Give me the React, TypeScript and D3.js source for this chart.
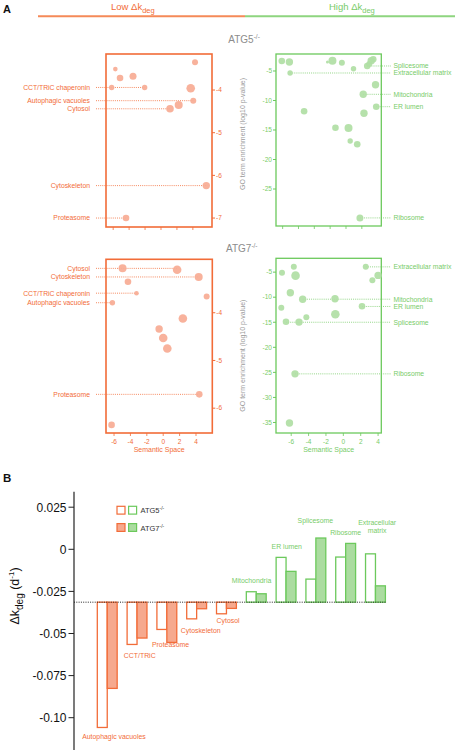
import React from 'react';
import * as d3 from 'd3';

// ---------- DATA ----------
// Panel A scatter points: [semantic x, log10 p-value, term size]
const atg5LowPoints: [number, number, number][] = [
  [4.27, -3.35, 3], [-5.73, -3.51, 2.3], [-5.14, -3.72, 3.3], [-3.51, -3.68, 3.5],
  [-6.19, -3.94, 2.7], [-2.05, -3.94, 2.7], [3.73, -3.96, 4.3], [4.05, -4.25, 3],
  [2.22, -4.35, 4], [1.13, -4.44, 3.8], [5.68, -6.24, 3.7], [-4.39, -7.0, 3.3],
];
const atg5HighPoints: [number, number, number][] = [
  [-6.11, -3.31, 3.3], [-5.15, -3.47, 3.7], [-0.34, -3.47, 1.5], [0.29, -3.25, 4],
  [1.48, -3.59, 3], [2.95, -4.61, 2.7], [4.68, -4.15, 3.3], [4.94, -3.81, 3],
  [5.19, -3.25, 3.7], [5.44, -3.02, 3.3], [-5.06, -5.34, 2.7], [5.73, -7.32, 3.7],
  [4.18, -8.95, 3.7], [5.82, -11.05, 3.3], [-3.29, -11.83, 3.3], [4.27, -12.17, 3.7],
  [0.67, -14.61, 3.3], [2.32, -14.66, 4], [2.53, -16.86, 2.7], [3.42, -17.42, 3.3],
  [3.76, -29.9, 3.5],
];
const atg7LowPoints: [number, number, number][] = [
  [-4.96, -3.07, 4], [1.7, -3.1, 4.3], [4.33, -3.25, 4], [-4.3, -3.35, 3.3],
  [-3.26, -3.59, 2.3], [5.3, -3.66, 3], [-6.2, -3.79, 2.7], [2.4, -4.12, 4.3],
  [-0.5, -4.34, 3.7], [0, -4.53, 4.3], [0.5, -4.75, 4.3], [4.4, -5.71, 3.3],
  [-6.3, -6.35, 3.3],
];
const atg7HighPoints: [number, number, number][] = [
  [-7.06, -5.14, 3], [-5.7, -3.95, 3], [-5.5, -5.7, 4.3], [2.58, -3.95, 3],
  [3.34, -6.6, 3], [4.0, -5.65, 3.7], [-6.1, -9.1, 3.7], [-4.68, -10.4, 3.7],
  [-0.96, -10.3, 3.7], [-7.14, -12.1, 3], [2.15, -11.8, 3.3], [-0.92, -13.4, 4.3],
  [-4.26, -14.0, 3], [-6.6, -14.9, 3.3], [-5.1, -14.97, 3.7], [-5.56, -25.3, 3.7],
  [-6.2, -35.1, 3.7],
];

// Panel A annotated GO terms: name, p-value level, farthest semantic x
const atg5LowLabels = [
  { name: 'CCT/TRiC chaperonin', y: -3.94, x: -2.05 },
  { name: 'Autophagic vacuoles', y: -4.25, x: 4.05 },
  { name: 'Cytosol', y: -4.44, x: 1.13 },
  { name: 'Cytoskeleton', y: -6.24, x: 5.68 },
  { name: 'Proteasome', y: -7.0, x: -4.39 },
];
const atg5HighLabels = [
  { name: 'Splicesome', y: -4.15, x: 4.68 },
  { name: 'Extracellular matrix', y: -5.34, x: -5.06 },
  { name: 'Mitochondria', y: -8.95, x: 4.18 },
  { name: 'ER lumen', y: -11.05, x: 5.82 },
  { name: 'Ribosome', y: -29.9, x: 3.76 },
];
const atg7LowLabels = [
  { name: 'Cytosol', y: -3.07, x: 1.7 },
  { name: 'Cytoskeleton', y: -3.25, x: 4.33 },
  { name: 'CCT/TRiC chaperonin', y: -3.59, x: -3.26 },
  { name: 'Autophagic vacuoles', y: -3.79, x: -6.2 },
  { name: 'Proteasome', y: -5.71, x: 4.4 },
];
const atg7HighLabels = [
  { name: 'Extracellular matrix', y: -3.95, x: 2.58 },
  { name: 'Mitochondria', y: -10.4, x: -4.68 },
  { name: 'ER lumen', y: -11.85, x: 2.15 },
  { name: 'Splicesome', y: -15.0, x: -6.6 },
  { name: 'Ribosome', y: -25.3, x: -5.56 },
];

const xTicksA = [-6, -4, -2, 0, 2, 4];
const yTicksAtg5Low = [-4, -5, -6, -7];
const yTicksAtg5High = [-5, -10, -15, -20, -25];
const yTicksAtg7Low = [-4, -5, -6];
const yTicksAtg7High = [-5, -10, -15, -20, -25, -30, -35];

// Panel B
const lowCategories = ['Autophagic vacuoles', 'CCT/TRiC', 'Proteasome', 'Cytoskeleton', 'Cytosol'];
const highCategories = ['Mitochondria', 'ER lumen', 'Splicesome', 'Ribosome', 'Extracellular matrix'];
const atg5Values = [-0.1058, -0.0565, -0.0476, -0.0413, -0.0383, -0.0252, -0.0048, -0.0177, -0.0046, -0.0027];
const atg7Values = [-0.0826, -0.0527, -0.0553, -0.0353, -0.0351, -0.0264, -0.0131, 0.0067, 0.0035, -0.0217];
const baselineK = -0.0314;
const yTicksB = [0.025, 0, -0.025, -0.05, -0.075, -0.1];
const yTickLabelsB = ['0.025', '0', '-0.025', '-0.05', '-0.075', '-0.10'];

// ---------- STYLE / LAYOUT ----------
const ORANGE = '#f26c38';
const ORANGE_LIGHT = '#f6a98e';
const ORANGE_DOT = '#f7ab94';
const GREEN = '#6cc95c';
const GREEN_LIGHT = '#abdca0';
const GREEN_DOT = '#b0dea4';
const GREEN_TEXT = '#78cc69';
const GREY = '#8c8c8c';
const FONT = '"Liberation Sans", Arial, Helvetica, sans-serif';

// bar label nudges [dx, dy] relative to group centre / bar end
const barLabelNudge: Record<string, [number, number]> = {
  'Autophagic vacuoles': [6.7, 11.7],
  'CCT/TRiC': [2.7, 13.7],
  'Proteasome': [3.7, 4.2],
  'Cytoskeleton': [4.1, 14.5],
  'Cytosol': [1.6, 9.5],
  'Mitochondria': [-4.7, -9.2],
  'ER lumen': [0.7, -8.1],
  'Splicesome': [-0.5, -14.8],
  'Ribosome': [0, -8.1],
  'Extracellular matrix': [1.7, -20.5],
};

type Lbl = { name: string; y: number; x: number };

interface PanelProps {
  side: 'low' | 'high';
  box: [number, number, number, number];
  xDomain: [number, number];
  yDomain: [number, number];
  yTicks: number[];
  showXLabels: boolean;
  points: [number, number, number][];
  labels: Lbl[];
}

function ScatterPanel({ side, box, xDomain, yDomain, yTicks, showXLabels, points, labels }: PanelProps) {
  const [x0, y0, x1, y1] = box;
  const xs = d3.scaleLinear().domain(xDomain).range([x0, x1]);
  const ys = d3.scaleLinear().domain(yDomain).range([y1, y0]);
  const rs = d3.scaleLinear().domain([0, 5]).range([0, 5]);
  const stroke = side === 'low' ? ORANGE : GREEN;
  const dot = side === 'low' ? ORANGE_DOT : GREEN_DOT;
  const txt = side === 'low' ? ORANGE : GREEN_TEXT;
  const fs = 6.8;
  return (
    <g fontFamily={FONT}>
      {/* annotation lines */}
      {labels.map((l, i) => {
        const yy = ys(l.y);
        const px = xs(l.x);
        return side === 'low' ? (
          <g key={i}>
            <line x1={96} x2={px} y1={yy} y2={yy} stroke={txt} strokeWidth={0.8} strokeDasharray="1,1.1" />
            <text x={90} y={yy} dy="0.35em" textAnchor="end" fontSize={fs} fill={txt}>{l.name}</text>
          </g>
        ) : (
          <g key={i}>
            <line x1={px} x2={391} y1={yy} y2={yy} stroke={txt} strokeWidth={0.8} strokeDasharray="1,1.1" />
            <text x={393.5} y={yy} dy="0.35em" textAnchor="start" fontSize={fs} fill={txt}>{l.name}</text>
          </g>
        );
      })}
      <rect x={x0} y={y0} width={x1 - x0} height={y1 - y0} fill="none" stroke={stroke} strokeWidth={side === 'low' ? 1.6 : 1.3} />
      {points.map((p, i) => (
        <circle key={i} cx={xs(p[0])} cy={ys(p[1])} r={rs(p[2])} fill={dot} fillOpacity={0.92} />
      ))}
      {/* y axis */}
      {yTicks.map((t) => {
        const yy = ys(t);
        return side === 'low' ? (
          <g key={t}>
            <line x1={x1} x2={x1 + 3} y1={yy} y2={yy} stroke={stroke} strokeWidth={1} />
            <text x={x1 + 4} y={yy} dy="0.35em" fontSize={6.5} fill={txt}>{String(t)}</text>
          </g>
        ) : (
          <g key={t}>
            <line x1={x0 - 3} x2={x0} y1={yy} y2={yy} stroke={stroke} strokeWidth={1} />
            <text x={x0 - 4} y={yy} dy="0.35em" textAnchor="end" fontSize={6.5} fill={txt}>{String(t)}</text>
          </g>
        );
      })}
      {/* x axis */}
      {xTicksA.map((t) => (
        <g key={t}>
          <line x1={xs(t)} x2={xs(t)} y1={y1} y2={y1 + 3} stroke={stroke} strokeWidth={0.8} />
          {showXLabels && (
            <text x={xs(t)} y={y1 + 10.5} textAnchor="middle" fontSize={6.5} fill={txt}>{String(t)}</text>
          )}
        </g>
      ))}
      {showXLabels && (
        <text x={(x0 + x1) / 2} y={y1 + 19} textAnchor="middle" fontSize={7} fill={txt}>Semantic Space</text>
      )}
      {side === 'high' && (
        <text
          transform={`translate(${x0 - 31},${(y0 + y1) / 2 + (showXLabels ? 10 : -6)}) rotate(-90)`}
          textAnchor="middle"
          fontSize={7}
          fill="#9a9a9a"
        >
          GO term enrichment (log10 p-value)
        </text>
      )}
    </g>
  );
}

function BarPanel() {
  const cats = [...lowCategories, ...highCategories];
  const yB = d3.scaleLinear().domain([-0.1, 0.025]).range([717.7, 507.2]);
  const xB = d3.scaleBand<string>().domain(cats).range([82.4, 400.3]).paddingInner(1 / 3).paddingOuter(0.5);
  const sub = d3.scaleBand<string>().domain(['ATG5', 'ATG7']).range([0, xB.bandwidth()]);
  const y0 = yB(baselineK);
  return (
    <g fontFamily={FONT}>
      <text x={3} y={482} fontSize={11.5} fontWeight="bold" fill="#111">B</text>
      {/* y axis */}
      <line x1={74} x2={74} y1={491.7} y2={750} stroke="#222" strokeWidth={1.2} />
      {yTicksB.map((t, i) => (
        <g key={t}>
          <line x1={68.5} x2={74} y1={yB(t)} y2={yB(t)} stroke="#222" strokeWidth={1} />
          <text x={66.5} y={yB(t)} dy="0.36em" textAnchor="end" fontSize={12} fill="#111">{yTickLabelsB[i]}</text>
        </g>
      ))}
      <text transform="translate(19,596) rotate(-90)" textAnchor="middle" fontSize={12.5} fill="#111">
        Δk<tspan fontSize={10} dy={3.5}>deg</tspan><tspan dy={-3.5}> (d</tspan><tspan fontSize={8} dy={-5}>-1</tspan><tspan dy={5}>)</tspan>
      </text>
      {/* bars */}
      {cats.map((c, i) => {
        const low = i < lowCategories.length;
        const col = low ? ORANGE : GREEN;
        const light = low ? ORANGE_LIGHT : GREEN_LIGHT;
        const bx = xB(c)!;
        const vals: [string, number][] = [['ATG5', atg5Values[i]], ['ATG7', atg7Values[i]]];
        const ext = low ? Math.max(yB(atg5Values[i]), yB(atg7Values[i])) : Math.min(yB(atg5Values[i]), yB(atg7Values[i]));
        const [dx, dy] = barLabelNudge[c] || [0, 0];
        const cx = bx + xB.bandwidth() / 2 + dx;
        const ly = ext + dy;
        const lines = c === 'Extracellular matrix' ? ['Extracellular', 'matrix'] : [c];
        return (
          <g key={c}>
            {vals.map(([k, v]) => {
              const yv = yB(v);
              return (
                <rect
                  key={k}
                  x={bx + sub(k)!}
                  y={Math.min(yv, y0)}
                  width={sub.bandwidth()}
                  height={Math.abs(yv - y0)}
                  fill={k === 'ATG5' ? '#fff' : light}
                  stroke={col}
                  strokeWidth={1.3}
                />
              );
            })}
            {lines.map((t, j) => (
              <text key={j} x={cx} y={ly - (lines.length - 1 - j) * 8.5} textAnchor="middle" fontSize={6.9} fill={low ? ORANGE : GREEN_TEXT}>{t}</text>
            ))}
          </g>
        );
      })}
      <line x1={74} x2={386} y1={y0} y2={y0} stroke="#222" strokeWidth={1} strokeDasharray="1,1.3" />
      {/* legend */}
      <rect x={117} y={506.3} width={8} height={7.8} fill="#fff" stroke={ORANGE} strokeWidth={1.2} />
      <rect x={128.6} y={506.3} width={8} height={7.8} fill="#fff" stroke={GREEN} strokeWidth={1.2} />
      <rect x={117} y={523.6} width={8} height={7.8} fill={ORANGE_LIGHT} stroke={ORANGE} strokeWidth={1.2} />
      <rect x={128.6} y={523.6} width={8} height={7.8} fill={GREEN_LIGHT} stroke={GREEN} strokeWidth={1.2} />
      <text x={140.5} y={513.2} fontSize={7.5} fill="#333">ATG5<tspan fontSize={5} dy={-3}>-/-</tspan></text>
      <text x={140.5} y={530.5} fontSize={7.5} fill="#333">ATG7<tspan fontSize={5} dy={-3}>-/-</tspan></text>
    </g>
  );
}

export default function App() {
  return (
    <svg width={457} height={750} style={{ position: 'absolute', left: 0, top: 0, background: '#fff' }}>
      <rect x={0} y={0} width={457} height={750} fill="#fff" />
      <g fontFamily={FONT}>
        <text x={3} y={13} fontSize={11} fontWeight="bold" fill="#111">A</text>
        <text x={111} y={10} fontSize={9.5} fill={ORANGE}>Low Δk<tspan fontSize={7.5} dy={3}>deg</tspan></text>
        <text x={329} y={10} fontSize={9.5} fill={GREEN_TEXT}>High Δk<tspan fontSize={7.5} dy={3}>deg</tspan></text>
        <line x1={38} x2={245} y1={16.3} y2={16.3} stroke={'#f58a58'} strokeWidth={2} />
        <line x1={245} x2={455} y1={16.3} y2={16.3} stroke={'#8ed57f'} strokeWidth={2} />
        <text x={228.3} y={43} fontSize={10} fill={GREY}>ATG5<tspan fontSize={6.5} dy={-4}>-/-</tspan></text>
        <text x={226} y={252} fontSize={10} fill={GREY}>ATG7<tspan fontSize={6.5} dy={-4}>-/-</tspan></text>
      </g>
      <ScatterPanel side="low" box={[106, 54, 212, 227]} xDomain={[-6.9, 6.4]} yDomain={[-7.21, -3.156]}
        yTicks={yTicksAtg5Low} showXLabels={false} points={atg5LowPoints} labels={atg5LowLabels} />
      <ScatterPanel side="high" box={[276, 54, 381.3, 226]} xDomain={[-6.84, 6.46]} yDomain={[-31.27, -2.12]}
        yTicks={yTicksAtg5High} showXLabels={false} points={atg5HighPoints} labels={atg5HighLabels} />
      <ScatterPanel side="low" box={[106, 259.3, 212.3, 433]} xDomain={[-6.98, 5.99]} yDomain={[-6.52, -2.88]}
        yTicks={yTicksAtg7Low} showXLabels={true} points={atg7LowPoints} labels={atg7LowLabels} />
      <ScatterPanel side="high" box={[276, 258.3, 381.3, 433]} xDomain={[-7.75, 4.37]} yDomain={[-37.1, -2.24]}
        yTicks={yTicksAtg7High} showXLabels={true} points={atg7HighPoints} labels={atg7HighLabels} />
      <BarPanel />
    </svg>
  );
}
